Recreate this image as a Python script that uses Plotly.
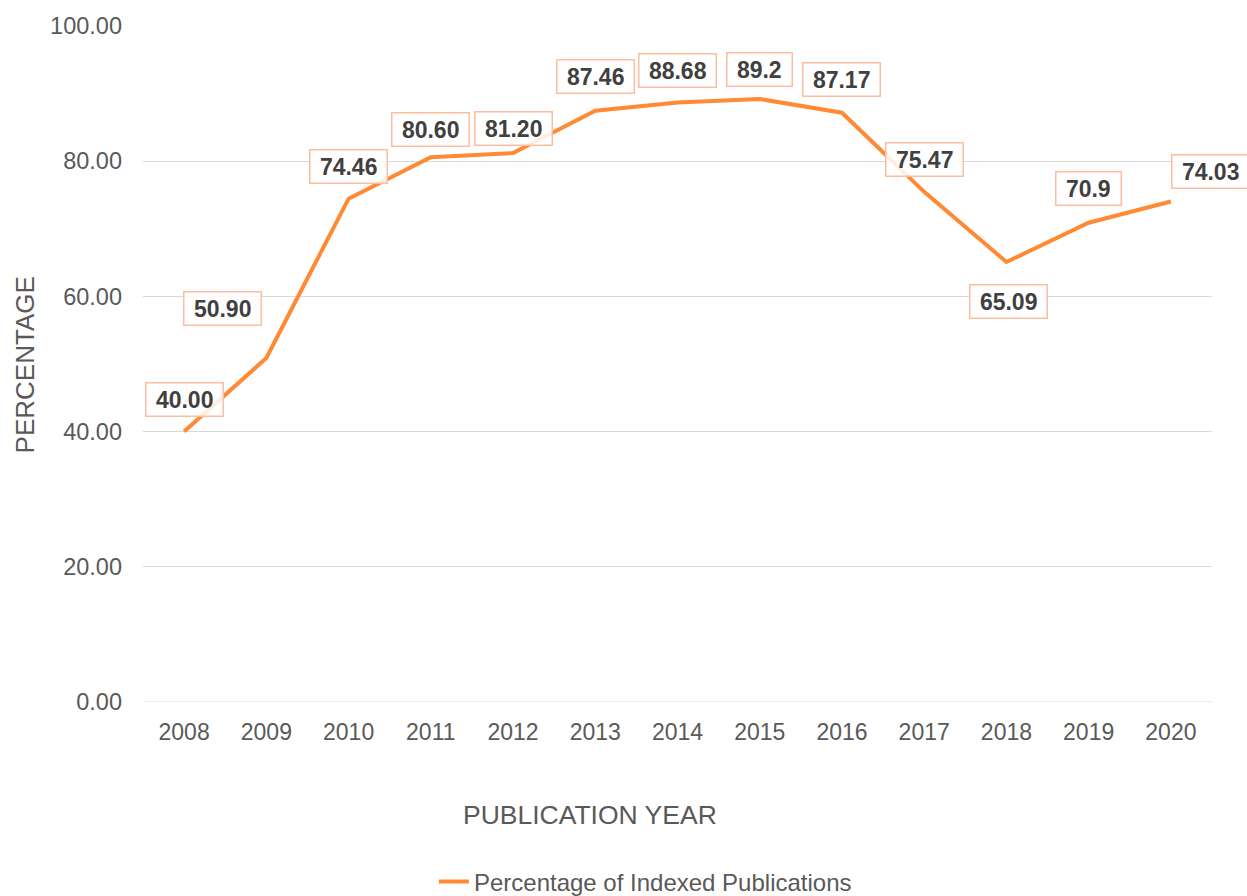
import plotly.graph_objects as go

years = ["2008", "2009", "2010", "2011", "2012", "2013", "2014",
         "2015", "2016", "2017", "2018", "2019", "2020"]
values = [40.00, 50.90, 74.46, 80.60, 81.20, 87.46, 88.68,
          89.2, 87.17, 75.47, 65.09, 70.9, 74.03]
labels = ["40.00", "50.90", "74.46", "80.60", "81.20", "87.46", "88.68",
          "89.2", "87.17", "75.47", "65.09", "70.9", "74.03"]
y_ticks = [0, 20, 40, 60, 80, 100]
series_name = "Percentage of Indexed Publications"

# label offsets in pixels (layout only)
label_dx = [0, -44, 0, 0, 0, 0, 0, 0, 0, 0, 2, 0, 40]
label_dy = [32, 49, 32, 28, 25, 34, 32, 30, 33, 32, -40, 34, 30]

FONT = "Liberation Sans, Arial, sans-serif"
ORANGE = "#FF8A33"
GREY = "#595959"

fig = go.Figure()
fig.add_trace(go.Scatter(
    x=years, y=values, mode="lines", name=series_name,
    line=dict(color=ORANGE, width=4),
))

for i, (v, t) in enumerate(zip(values, labels)):
    fig.add_annotation(
        x=i, y=v, xref="x", yref="y", text="<b> " + t + " </b>",
        showarrow=False, xanchor="center", yanchor="middle",
        xshift=label_dx[i], yshift=label_dy[i],
        font=dict(family=FONT, size=23, color="#404040"),
        bgcolor="rgba(255,255,255,0.85)", bordercolor="#FBBE9E",
        borderwidth=1.5, borderpad=3,
    )

fig.add_annotation(
    text="PUBLICATION YEAR", xref="paper", yref="paper",
    x=0.418, y=-0.167, xanchor="center", yanchor="middle", showarrow=False,
    font=dict(family=FONT, size=26.5, color=GREY),
)
fig.add_annotation(
    text="PERCENTAGE", xref="paper", yref="paper", textangle=-90,
    x=-0.110, y=0.4985, xanchor="center", yanchor="middle", showarrow=False,
    font=dict(family=FONT, size=26, color=GREY),
)

fig.update_layout(
    width=1247, height=896,
    margin=dict(l=143, r=35, t=26, b=194, autoexpand=False),
    paper_bgcolor="white", plot_bgcolor="white",
    font=dict(family=FONT, color=GREY),
    showlegend=True,
    legend=dict(orientation="h", x=0.470, xanchor="center", y=-0.266,
                yanchor="middle", font=dict(family=FONT, size=24, color=GREY)),
    xaxis=dict(type="category", categoryorder="array", categoryarray=years,
               range=[-0.5, len(years) - 0.5], autorange=False, automargin=False,
               showgrid=False, showline=False, ticks="",
               ticklabelstandoff=14,
               tickfont=dict(family=FONT, size=23, color=GREY), zeroline=False),
    yaxis=dict(range=[0, 100], autorange=False, automargin=False,
               tickvals=y_ticks, tickformat=".2f",
               showgrid=True, gridcolor="#D9D9D9", gridwidth=1,
               zeroline=False, showline=False, ticks="", ticklabelstandoff=20,
               tickfont=dict(family=FONT, size=23.5, color=GREY)),
)
fig.add_shape(type="line", xref="paper", yref="y", x0=0, x1=1, y0=0, y1=0,
              line=dict(color="#D9D9D9", width=1), layer="below")

fig.write_html(
    "out.html",
    config={"displayModeBar": False},
    post_script="document.body.style.margin='0';document.body.style.overflow='hidden';",
)
